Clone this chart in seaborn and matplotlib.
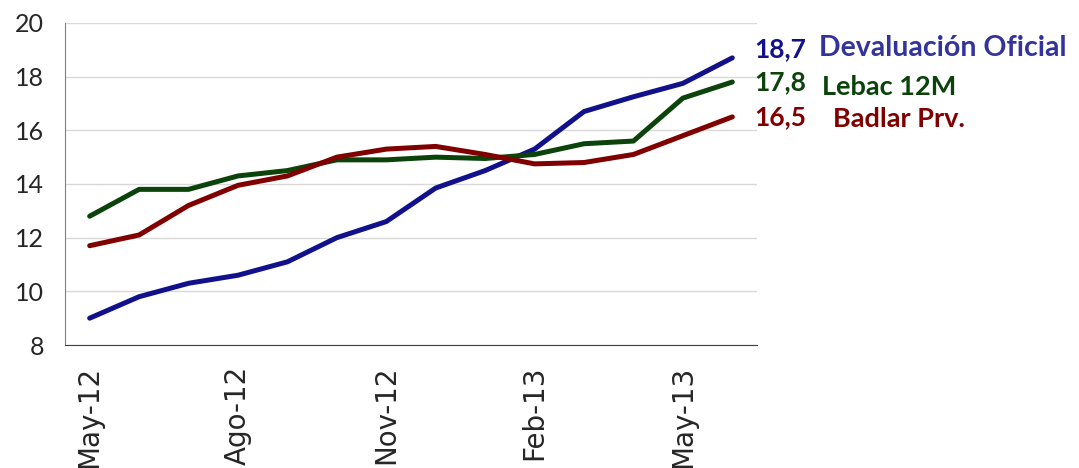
import numpy as np
import pandas as pd
import matplotlib
matplotlib.use("Agg")
import matplotlib.pyplot as plt
import seaborn as sns

meses = ["May-12", "Jun-12", "Jul-12", "Ago-12", "Sep-12", "Oct-12", "Nov-12",
         "Dic-12", "Ene-13", "Feb-13", "Mar-13", "Abr-13", "May-13", "Jun-13"]
devaluacion = [9.0, 9.8, 10.3, 10.6, 11.1, 12.0, 12.6, 13.85, 14.5, 15.3, 16.7, 17.25, 17.75, 18.7]
lebac = [12.8, 13.8, 13.8, 14.3, 14.5, 14.9, 14.9, 15.0, 14.95, 15.1, 15.5, 15.6, 17.2, 17.8]
badlar = [11.7, 12.1, 13.2, 13.95, 14.3, 15.0, 15.3, 15.4, 15.1, 14.75, 14.8, 15.1, 15.8, 16.5]

series = ["Devaluación Oficial", "Lebac 12M", "Badlar Prv."]
colores = ["#11118c", "#0b430b", "#800000"]
label_colores = ["#33339c", "#0b430b", "#800000"]
ultimos = ["18,7", "17,8", "16,5"]

df = pd.DataFrame({"mes": np.arange(len(meses)),
                   "Devaluación Oficial": devaluacion,
                   "Lebac 12M": lebac,
                   "Badlar Prv.": badlar})
long_df = df.melt(id_vars="mes", var_name="serie", value_name="valor")

sns.set_style("white")
plt.rcParams['font.family'] = ['DejaVu Sans']

fig = plt.figure(figsize=(10.79, 4.68), dpi=100)
ax = fig.add_axes([0.0602, 0.2628, 0.6414, 0.6881])

sns.lineplot(data=long_df, x="mes", y="valor", hue="serie", hue_order=series,
             palette=colores, linewidth=3.6, legend=False, ax=ax,
             solid_capstyle="round", solid_joinstyle="round")

ax.set_xlim(-0.5, len(meses) - 0.5)
ax.set_ylim(8, 20)
ax.set_yticks(np.arange(8, 21, 2))
ax.yaxis.grid(True, color="#d9d9d9", linewidth=1)
ax.set_axisbelow(True)

# tick marks between categories, labels every 3 months
ax.set_xticks(np.arange(-0.5, len(meses), 1))
ax.set_xticklabels([])
ax.set_xticks(np.arange(0, len(meses), 3), minor=True)
ax.set_xticklabels([meses[i] for i in range(0, len(meses), 3)], minor=True,
                   rotation=90, fontsize=20, va="top")
ax.tick_params(axis="x", which="major", length=7, width=1, color="#404040", direction="out")
ax.tick_params(axis="x", which="minor", length=0, pad=15)
ax.tick_params(axis="y", length=7, width=1, color="#202020", direction="out",
               labelsize=18, pad=8)
for lab in ax.get_yticklabels():
    lab.set_family("Lato")
ax.set_xlabel("")
ax.set_ylabel("")

for s in ["top", "right"]:
    ax.spines[s].set_visible(False)
ax.spines["left"].set_color("#808080")
ax.spines["bottom"].set_color("#404040")

# end labels
vals = [devaluacion, lebac, badlar]
num_dy = [6.5, 0, 0]
name_dy = [7, -3.6, -1.4]
name_dx = [62.6, 64.8, 72.7]
tam = [20.5, 19.5, 19.5]
for i in range(3):
    y = vals[i][-1]
    ax.annotate(ultimos[i], xy=(len(meses) - 1, y), xytext=(15.5, num_dy[i]),
                textcoords="offset points", va="center", ha="left",
                fontsize=19, fontweight="bold", color=colores[i],
                family="Lato", annotation_clip=False)
    ax.annotate(series[i], xy=(len(meses) - 1, y), xytext=(name_dx[i], name_dy[i]),
                textcoords="offset points", va="center", ha="left",
                fontsize=tam[i], fontweight="bold", color=label_colores[i],
                family="Lato", annotation_clip=False)

fig.savefig("out.png", dpi=100)
